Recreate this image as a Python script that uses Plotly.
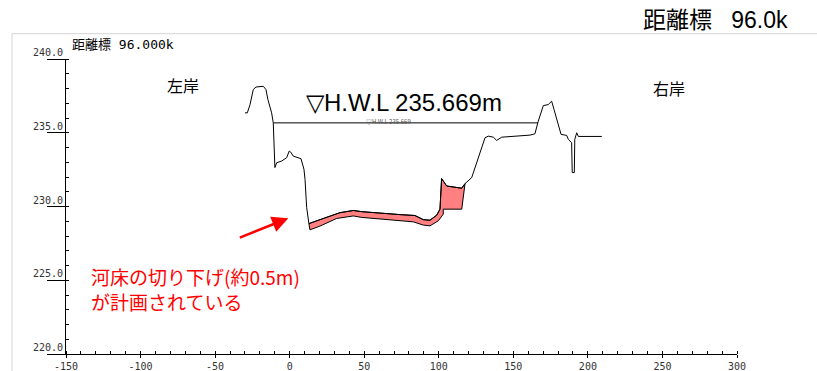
import plotly.graph_objects as go

# ---------------- data ----------------
# current ground profile (distance m, elevation m)
ground_x = [-30.0, -28.4, -26.6, -24.4, -22.6, -17.7, -15.9, -14.6, -12.1, -11.0, -9.9, -8.7, -5.4, -2.0,
            -0.3, 0.7, 2.4, 7.6, 9.6, 10.3, 11.4, 12.9, 20.3, 33.7, 42.7, 48.3, 74.0, 84.0, 89.6, 94.1,
            98.6, 100.8, 101.9, 105.3, 115.4, 117.6, 122.1, 131.0, 133.2, 136.6, 138.8, 142.2, 161.2,
            164.5, 166.7, 170.1, 173.4, 175.7, 177.3, 180.1, 182.0, 185.8, 186.9, 189.1, 189.5, 190.9,
            191.2, 192.5, 193.6, 209.3]
ground_y = [236.35, 236.35, 236.90, 237.93, 238.10, 238.15, 237.93, 237.25, 236.35, 235.68, 232.64, 232.97,
            233.08, 233.31, 233.76, 233.69, 233.42, 233.24, 232.52, 231.84, 229.93, 228.84, 229.11, 229.58,
            229.73, 229.65, 229.45, 229.39, 229.11, 229.07, 229.41, 229.82, 231.89, 231.39, 231.24, 231.55,
            231.96, 234.66, 234.77, 234.70, 234.48, 234.70, 234.84, 234.93, 235.78, 236.84, 236.91, 237.14,
            236.57, 235.56, 234.89, 234.82, 234.55, 234.32, 232.30, 232.30, 234.55, 235.00, 234.75, 234.75]

# planned (excavated) bed profile
plan_x = [12.9, 13.6, 20.3, 31.5, 42.7, 48.3, 74.0, 82.9, 89.6, 94.1, 99.7, 103.0, 103.0, 115.4, 117.6]
plan_y = [228.84, 228.42, 228.67, 229.19, 229.36, 229.26, 229.03, 228.96, 228.74, 228.69, 229.03,
          229.48, 229.82, 229.82, 231.55]

# H.W.L
hwl_level = 235.669
hwl_x = [-11.0, 166.5]

# axes
x_tickvals = [-150, -100, -50, 0, 50, 100, 150, 200, 250, 300]
x_ticktext = ["-150", "-100", "-50", "0", "50", "100", "150", "200", "250", "300"]
y_tickvals = [240, 235, 230, 225, 220]
y_ticktext = ["240.0", "235.0", "230.0", "225.0", "220.0"]

# ---------------- figure ----------------
fig = go.Figure()

i0 = ground_x.index(plan_x[0])
i1 = ground_x.index(plan_x[-1])
poly_x = ground_x[i0:i1 + 1] + plan_x[::-1]
poly_y = ground_y[i0:i1 + 1] + plan_y[::-1]
fig.add_trace(go.Scatter(x=poly_x, y=poly_y, mode="lines", fill="toself",
                         fillcolor="rgb(255,128,128)", line=dict(color="black", width=1),
                         hoverinfo="skip", showlegend=False))

fig.add_trace(go.Scatter(x=ground_x, y=ground_y, mode="lines",
                         line=dict(color="black", width=1), showlegend=False))

fig.add_trace(go.Scatter(x=hwl_x, y=[hwl_level, hwl_level], mode="lines",
                         line=dict(color="black", width=1), showlegend=False))

jp = "Noto Sans CJK JP"
mono = "DejaVu Sans Mono, Noto Sans CJK JP"
L, W, T, H = 66, 671, 59.3, 295


def px(xp):
    return (xp - L) / W


def py(yp):
    return 1 + (T - yp) / H


ann = []
for v, t in zip(y_tickvals, y_ticktext):
    ann.append(dict(x=0, xref="paper", y=v, yref="y", text=t, showarrow=False,
                    xanchor="right", yanchor="bottom", xshift=-1, yshift=-1,
                    font=dict(family=mono, size=10, color="#333")))

# small label mostly hidden behind the big one
ann.append(dict(x=66.6, y=hwl_level, text="▽H.W.L 235.669", showarrow=False,
                xanchor="center", yanchor="middle", yshift=1, borderpad=0,
                font=dict(family=jp, size=6, color="#555")))
# big HWL label
ann.append(dict(x=px(403.5), xref="paper", y=py(103), yref="paper", text="▽H.W.L 235.669m",
                showarrow=False, xanchor="center", yanchor="middle", bgcolor="white", borderpad=0,
                font=dict(family="Liberation Sans", size=24, color="black")))

ann.append(dict(x=px(183), xref="paper", y=py(85.5), yref="paper", text="左岸", showarrow=False,
                xanchor="center", yanchor="middle",
                font=dict(family=jp, size=16, color="black")))
ann.append(dict(x=px(668.5), xref="paper", y=py(88), yref="paper", text="右岸", showarrow=False,
                xanchor="center", yanchor="middle",
                font=dict(family=jp, size=16, color="black")))

ann.append(dict(x=px(70), xref="paper", y=py(44.5), yref="paper",
                text="距離標 96.000k", showarrow=False, xanchor="left", yanchor="middle",
                font=dict(family=mono, size=13, color="black")))

ann.append(dict(x=px(790), xref="paper", y=py(20), yref="paper",
                text="距離標\u00a0\u00a0\u00a096.0k", showarrow=False, xanchor="right", yanchor="middle",
                font=dict(family="Liberation Sans, Noto Sans CJK JP", size=23, color="black")))

ann.append(dict(x=px(89), xref="paper", y=py(276.5), yref="paper", text="河床の切り下げ(約0.5m)",
                showarrow=False, xanchor="left", yanchor="middle", align="left",
                font=dict(family=jp, size=19, color="red")))
ann.append(dict(x=px(89), xref="paper", y=py(301.5), yref="paper", text="が計画されている",
                showarrow=False, xanchor="left", yanchor="middle", align="left",
                font=dict(family=jp, size=19, color="red")))

# arrow
ann.append(dict(x=-0.9, y=229.21, ax=-50, ay=20, text="", showarrow=True,
                arrowhead=2, arrowsize=1.3, arrowwidth=2.5, arrowcolor="red"))

shapes = [
    dict(type="line", xref="paper", yref="paper", x0=px(12), x1=px(817),
         y0=py(34), y1=py(34), line=dict(color="#d4d4d4", width=1)),
    dict(type="line", xref="paper", yref="paper", x0=px(12), x1=px(12),
         y0=py(34), y1=py(372), line=dict(color="#d4d4d4", width=1)),
]

fig.update_layout(
    width=817, height=371,
    margin=dict(l=66, r=80, t=59, b=17, autoexpand=False),
    paper_bgcolor="white", plot_bgcolor="white",
    showlegend=False,
    annotations=ann, shapes=shapes,
    xaxis=dict(range=[-150, 300], tickvals=x_tickvals, ticktext=x_ticktext, automargin=False,
               showgrid=False, zeroline=False, showline=True, linecolor="black", linewidth=1,
               ticks="outside", ticklen=3, tickcolor="black",
               tickfont=dict(family=mono, size=10, color="#333"),
               minor=dict(dtick=10, ticks="inside", ticklen=3, tickcolor="black")),
    yaxis=dict(range=[220, 240], tickvals=y_tickvals, showticklabels=False, automargin=False,
               showgrid=False, zeroline=False, showline=True, linecolor="black", linewidth=1,
               ticks="outside", ticklen=18, tickcolor="black",
               minor=dict(dtick=1, ticks="inside", ticklen=3, tickcolor="black")),
)

fig.write_html("out.html", config={"displayModeBar": False},
               post_script="document.body.style.margin='0';document.body.style.overflow='hidden';")
